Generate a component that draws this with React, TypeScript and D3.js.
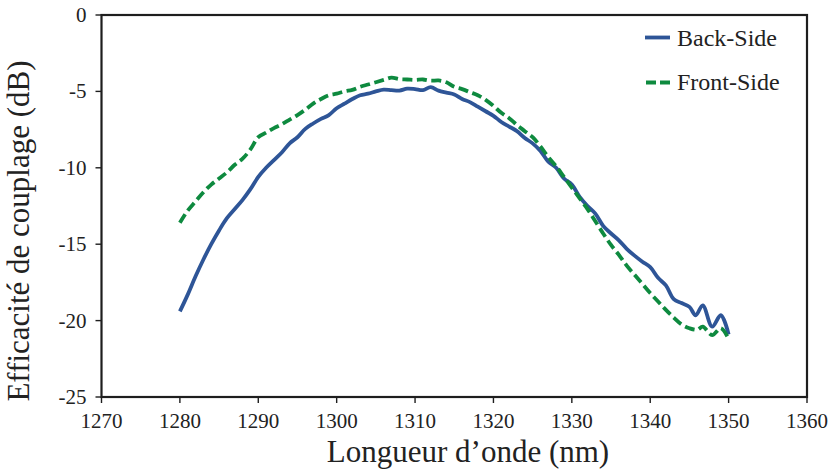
import React from "react";
import * as d3 from "d3";

const xTicks = [1270, 1280, 1290, 1300, 1310, 1320, 1330, 1340, 1350, 1360];
const yTicks = [0, -5, -10, -15, -20, -25];

const backSide: [number, number][] = [
  [1280, -19.4], [1281, -18.3], [1282, -17.1], [1283, -16.0], [1284, -15.0],
  [1285, -14.1], [1286, -13.3], [1287, -12.7], [1288, -12.1], [1289, -11.4],
  [1290, -10.6], [1291, -10.0], [1292, -9.5], [1293, -9.0], [1294, -8.4],
  [1295, -8.0], [1296, -7.45], [1297, -7.1], [1298, -6.8], [1299, -6.55],
  [1300, -6.1], [1301, -5.8], [1302, -5.5], [1303, -5.25], [1304, -5.15],
  [1305, -5.0], [1306, -4.88], [1307, -4.92], [1308, -4.95], [1309, -4.82],
  [1310, -4.85], [1311, -4.92], [1312, -4.72], [1313, -4.95], [1314, -5.08],
  [1315, -5.2], [1316, -5.5], [1317, -5.7], [1318, -6.0], [1319, -6.3],
  [1320, -6.6], [1321, -7.0], [1322, -7.3], [1323, -7.6], [1324, -8.05],
  [1325, -8.4], [1326, -8.9], [1327, -9.6], [1328, -10.0], [1329, -10.7],
  [1330, -11.1], [1331, -11.9], [1332, -12.5], [1333, -13.0], [1334, -13.8],
  [1335, -14.3], [1336, -14.75], [1337, -15.3], [1338, -15.75], [1339, -16.15],
  [1340, -16.5], [1341, -17.2], [1342, -17.7], [1343, -18.6], [1344, -18.85],
  [1345, -19.1], [1345.8, -19.65], [1346.7, -19.0], [1347.9, -20.4], [1349, -19.65],
  [1350, -20.9],
];

const frontSide: [number, number][] = [
  [1280, -13.6], [1281, -12.8], [1282, -12.2], [1283, -11.6], [1284, -11.1],
  [1285, -10.7], [1286, -10.3], [1287, -9.8], [1288, -9.4], [1289, -8.8],
  [1290, -8.0], [1291, -7.7], [1292, -7.4], [1293, -7.15], [1294, -6.85],
  [1295, -6.55], [1296, -6.2], [1297, -5.8], [1298, -5.5], [1299, -5.25],
  [1300, -5.15], [1301, -5.0], [1302, -4.9], [1303, -4.7], [1304, -4.55],
  [1305, -4.4], [1306, -4.25], [1307, -4.1], [1308, -4.2], [1309, -4.22],
  [1310, -4.25], [1311, -4.22], [1312, -4.3], [1313, -4.28], [1314, -4.4],
  [1315, -4.7], [1316, -4.85], [1317, -5.05], [1318, -5.25], [1319, -5.55],
  [1320, -5.95], [1321, -6.4], [1322, -6.75], [1323, -7.2], [1324, -7.6],
  [1325, -8.0], [1326, -8.6], [1327, -9.3], [1328, -9.9], [1329, -10.6],
  [1330, -11.3], [1331, -12.0], [1332, -12.7], [1333, -13.5], [1334, -14.3],
  [1335, -15.05], [1336, -15.7], [1337, -16.4], [1338, -17.0], [1339, -17.6],
  [1340, -18.2], [1341, -18.75], [1342, -19.3], [1343, -19.8], [1344, -20.25],
  [1345, -20.5], [1346, -20.6], [1346.7, -20.4], [1347.9, -20.95], [1349, -20.5],
  [1350, -21.2],
];

const seriesNames = ["Back-Side", "Front-Side"];
const xTitle = "Longueur d\u2019onde (nm)";
const yTitle = "Efficacité de couplage (dB)";

const W = 830;
const H = 471;
const M = { left: 101.5, right: 807, top: 15, bottom: 397 };
const BLUE = "#2E5597";
const GREEN = "#0E8A3F";
const FONT = "serif";

export default function App() {
  const x = d3.scaleLinear().domain([1270, 1360]).range([M.left, M.right]);
  const y = d3.scaleLinear().domain([-25, 0]).range([M.bottom, M.top]);
  const line = d3
    .line<[number, number]>()
    .x((d) => x(d[0]))
    .y((d) => y(d[1]))
    .curve(d3.curveCatmullRom.alpha(0.5));

  return (
    <svg
      width={W}
      height={H}
      fontFamily={FONT}
      style={{ position: "absolute", left: 0, top: 0, fontFamily: FONT }}
    >
      <path d={line(backSide) || ""} fill="none" stroke={BLUE} strokeWidth={3.8} strokeLinejoin="round" />
      <path
        d={line(frontSide) || ""}
        fill="none"
        stroke={GREEN}
        strokeWidth={3.8}
        strokeDasharray="10,4.5"
      />
      <rect
        x={M.left}
        y={M.top}
        width={M.right - M.left}
        height={M.bottom - M.top}
        fill="none"
        stroke="#1e1e1e"
        strokeWidth={2.2}
      />
      {yTicks.map((t) => (
        <g key={"y" + t}>
          <line x1={M.left - 6} x2={M.left} y1={y(t)} y2={y(t)} stroke="#1e1e1e" strokeWidth={1.4} />
          <text x={M.left - 15} y={y(t) + 7} textAnchor="end" fontSize={21} fill="#222">
            {t}
          </text>
        </g>
      ))}
      {xTicks.map((t) => (
        <g key={"x" + t}>
          <line x1={x(t)} x2={x(t)} y1={M.bottom} y2={M.bottom + 6} stroke="#1e1e1e" strokeWidth={1.4} />
          <text x={x(t)} y={428} textAnchor="middle" fontSize={21} fill="#222">
            {t}
          </text>
        </g>
      ))}
      <text x={468} y={462} textAnchor="middle" fontSize={31} fill="#222">
        {xTitle}
      </text>
      <text transform="translate(29,231) rotate(-90)" textAnchor="middle" fontSize={31} fill="#222">
        {yTitle}
      </text>
      <line x1={645} x2={670} y1={37.5} y2={37.5} stroke={BLUE} strokeWidth={3.8} />
      <text x={677} y={46} fontSize={24} fill="#222">
        {seriesNames[0]}
      </text>
      <line x1={646} x2={670} y1={82.5} y2={82.5} stroke={GREEN} strokeWidth={3.8} strokeDasharray="10,4" />
      <text x={677} y={90} fontSize={24} fill="#222">
        {seriesNames[1]}
      </text>
    </svg>
  );
}
